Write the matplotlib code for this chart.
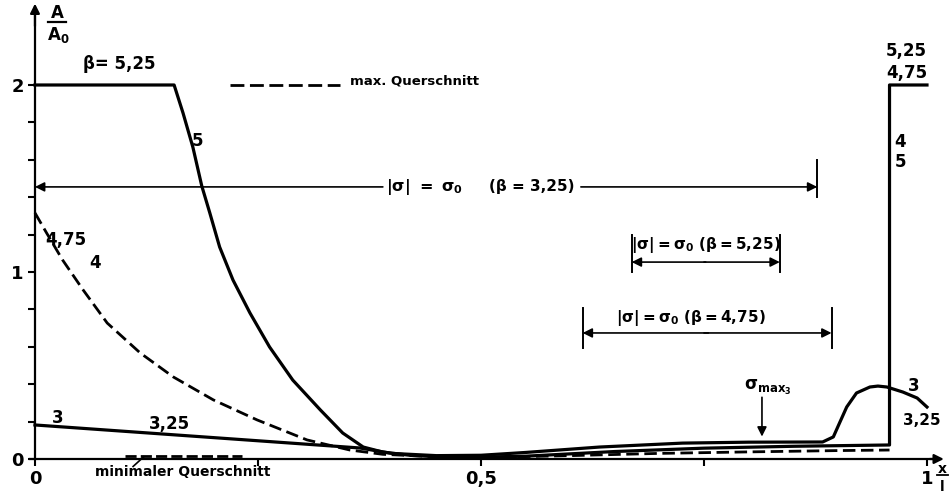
import numpy as np
import matplotlib.pyplot as plt

plt.rcParams['font.family'] = ['DejaVu Sans']
plt.rcParams['font.weight'] = 'bold'
plt.rcParams['mathtext.fontset'] = 'dejavusans'
plt.rcParams['mathtext.default'] = 'bf'

# beta = 5,25 / 5 (solid, goes up to 2 at the right end)
x_525 = [0, 0.156, 0.166, 0.177, 0.187, 0.196, 0.207, 0.222, 0.241, 0.263, 0.289, 0.320,
         0.345, 0.368, 0.390, 0.42, 0.45, 0.50, 0.55, 0.65, 0.75, 0.85, 0.958, 0.958, 1.0]
A_525 = [2.0, 2.0, 1.850, 1.668, 1.460, 1.316, 1.134, 0.957, 0.781, 0.599, 0.422, 0.262,
         0.139, 0.064, 0.037, 0.02, 0.012, 0.01, 0.015, 0.04, 0.058, 0.068, 0.075, 2.0, 2.0]

# beta = 4,75 / 4 (dashed)
x_475 = [0, 0.013, 0.031, 0.054, 0.081, 0.118, 0.155, 0.2, 0.249, 0.305, 0.353, 0.39,
         0.45, 0.5, 0.6, 0.7, 0.8, 0.9, 0.958]
A_475 = [1.316, 1.209, 1.064, 0.904, 0.727, 0.567, 0.439, 0.316, 0.209, 0.102, 0.048, 0.025,
         0.012, 0.008, 0.018, 0.03, 0.038, 0.045, 0.048]

# beta = 3 / 3,25 (solid, bump near the end)
x_3 = [0, 0.364, 0.40, 0.45, 0.50, 0.55, 0.633, 0.726, 0.80, 0.883, 0.895, 0.902, 0.910,
       0.921, 0.936, 0.945, 0.955, 0.973, 0.989, 1.0]
A_3 = [0.182, 0.059, 0.03, 0.018, 0.02, 0.035, 0.064, 0.085, 0.09, 0.091, 0.118, 0.193,
       0.278, 0.353, 0.385, 0.39, 0.385, 0.358, 0.326, 0.278]

# legend segments
x_max_q = [0.219, 0.342]
A_max_q = [2.0, 2.0]
x_min_q = [0.101, 0.232]
A_min_q = [0.016, 0.016]

fig = plt.figure(figsize=(9.5, 4.99), dpi=100)
ax = fig.add_axes([0, 0, 1, 1])
ax.set_xlim(-0.0392, 1.0258)
ax.set_ylim(-0.2139, 2.4545)

# axes as in the drawing
for s in ['top', 'right']:
    ax.spines[s].set_visible(False)
ax.spines['left'].set_position(('data', 0))
ax.spines['bottom'].set_position(('data', 0))
ax.spines['left'].set_bounds(0, 2.38)
ax.spines['bottom'].set_bounds(-0.006, 1.01)
ax.spines['left'].set_linewidth(1.6)
ax.spines['bottom'].set_linewidth(1.6)
ax.set_yticks(np.arange(0, 2.01, 0.2))
ax.set_yticklabels(['0', '', '', '', '', '1', '', '', '', '', '2'])
ax.set_xticks([0, 0.25, 0.5, 0.75, 1.0])
ax.set_xticklabels(['0', '', '0,5', '', '1'])
ax.tick_params(axis='both', direction='out', length=5, width=1.5, labelsize=13, pad=3)
ax.annotate('', xy=(0, 2.45), xytext=(0, 2.3),
            arrowprops=dict(arrowstyle='-|>', lw=1.6, color='black', mutation_scale=14))
ax.annotate('', xy=(1.022, 0), xytext=(1.0, 0),
            arrowprops=dict(arrowstyle='-|>', lw=1.6, color='black', mutation_scale=14))

# axis labels A/A0 and x/l as stacked fractions
ax.text(0.025, 2.385, 'A', fontsize=12, ha='center', va='center')
ax.plot([0.015, 0.035], [2.335, 2.335], color='black', lw=1.6)
ax.text(0.026, 2.27, r'A$_0$', fontsize=12, ha='center', va='center')
ax.text(1.017, -0.055, 'x', fontsize=10, ha='center', va='center')
ax.plot([1.011, 1.023], [-0.085, -0.085], color='black', lw=1.3)
ax.text(1.017, -0.15, 'l', fontsize=10, ha='center', va='center')

# curves
ax.plot(x_525, A_525, color='black', lw=2.3, solid_joinstyle='round')
ax.plot(x_475, A_475, color='black', lw=2.0, linestyle=(0, (4.5, 2)))
ax.plot(x_3, A_3, color='black', lw=2.3, solid_joinstyle='round')
ax.plot(x_max_q, A_max_q, color='black', lw=2.0, linestyle=(0, (5, 2)))
ax.plot(x_min_q, A_min_q, color='black', lw=2.0, linestyle=(0, (4, 1.5)))
ax.plot([0.110, 0.122], [-0.04, 0.012], color='black', lw=1.2)

# curve labels
fs = 12
ax.text(0.095, 2.11, 'β= 5,25', fontsize=fs, ha='center', va='center')
ax.text(0.182, 1.70, '5', fontsize=fs, ha='center', va='center')
ax.text(0.035, 1.17, '4,75', fontsize=fs, ha='center', va='center')
ax.text(0.067, 1.05, '4', fontsize=fs, ha='center', va='center')
ax.text(0.025, 0.22, '3', fontsize=fs, ha='center', va='center')
ax.text(0.151, 0.185, '3,25', fontsize=fs, ha='center', va='center')
ax.text(0.977, 2.18, '5,25', fontsize=fs, ha='center', va='center')
ax.text(0.977, 2.065, '4,75', fontsize=fs, ha='center', va='center')
ax.text(0.970, 1.695, '4', fontsize=fs, ha='center', va='center')
ax.text(0.970, 1.59, '5', fontsize=fs, ha='center', va='center')
ax.text(0.985, 0.39, '3', fontsize=fs, ha='center', va='center')
ax.text(0.994, 0.205, '3,25', fontsize=11, ha='center', va='center')
ax.text(0.353, 2.02, 'max. Querschnitt', fontsize=9.5, ha='left', va='center')
ax.text(0.166, -0.07, 'minimaler Querschnitt', fontsize=10, ha='center', va='center')

# |sigma| = sigma0 ranges
arr = dict(arrowstyle='-|>', lw=1.2, color='black', mutation_scale=14,
           shrinkA=0, shrinkB=0)
# beta = 3,25
ax.annotate('', xy=(0, 1.455), xytext=(0.39, 1.455), arrowprops=arr)
ax.annotate('', xy=(0.877, 1.455), xytext=(0.612, 1.455), arrowprops=arr)
ax.plot([0.877, 0.877], [1.40, 1.60], color='black', lw=1.4)
ax.text(0.437, 1.455, r'$|\sigma|\ =\ \sigma_0$', fontsize=11.5, ha='center', va='center')
ax.text(0.557, 1.455, '(β = 3,25)', fontsize=11, ha='center', va='center')
# beta = 5,25
ax.annotate('', xy=(0.669, 1.053), xytext=(0.752, 1.053), arrowprops=arr)
ax.annotate('', xy=(0.835, 1.053), xytext=(0.75, 1.053), arrowprops=arr)
ax.plot([0.669, 0.669], [1.0, 1.2], color='black', lw=1.4)
ax.plot([0.835, 0.835], [1.0, 1.2], color='black', lw=1.4)
ax.text(0.752, 1.145, r'$|\sigma| = \sigma_0\ (β = 5{,}25)$', fontsize=11,
        ha='center', va='center')
# beta = 4,75
ax.annotate('', xy=(0.614, 0.674), xytext=(0.755, 0.674), arrowprops=arr)
ax.annotate('', xy=(0.893, 0.674), xytext=(0.75, 0.674), arrowprops=arr)
ax.plot([0.614, 0.614], [0.594, 0.807], color='black', lw=1.4)
ax.plot([0.893, 0.893], [0.594, 0.807], color='black', lw=1.4)
ax.text(0.735, 0.755, r'$|\sigma| = \sigma_0\ (β = 4{,}75)$', fontsize=11,
        ha='center', va='center')
# sigma max 3
ax.annotate('', xy=(0.815, 0.12), xytext=(0.815, 0.33), arrowprops=arr)
ax.text(0.822, 0.38, r'$\sigma_{max_3}$', fontsize=12, ha='center', va='center')

fig.savefig('out.png', dpi=100)
